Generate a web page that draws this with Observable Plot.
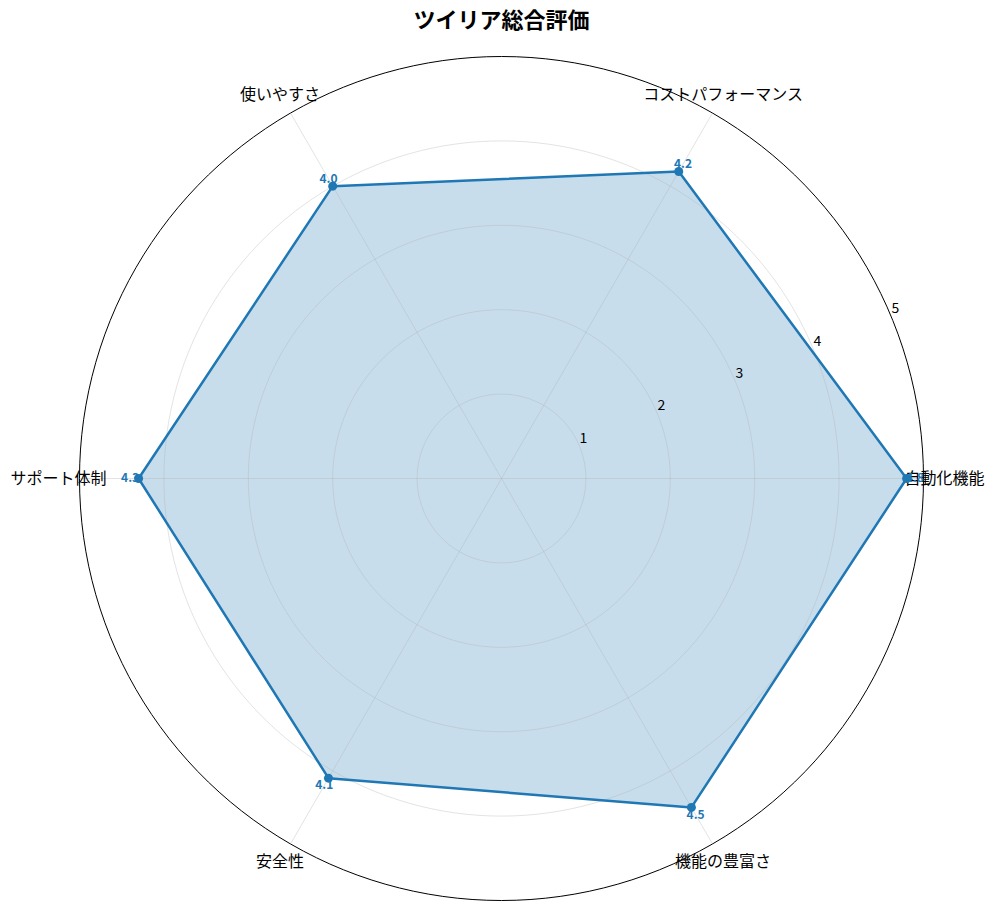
<!DOCTYPE html>
<html><head><meta charset="utf-8">
<script src="https://cdn.jsdelivr.net/npm/d3@7"></script>
<script src="https://cdn.jsdelivr.net/npm/@observablehq/plot@0.6"></script>
<style>body{margin:0;background:#fff}svg{display:block}</style>
</head><body><div id="chart"></div>
<script>
const title = "ツイリア総合評価";
const categories = ["自動化機能","コストパフォーマンス","使いやすさ","サポート体制","安全性","機能の豊富さ"];
const values = [4.8, 4.2, 4.0, 4.3, 4.1, 4.5];
const rTicks = [1, 2, 3, 4, 5];
const rMax = 5;

const W = 995, H = 910, cx = 501, cy = 478, R = 422;
const unit = R / rMax;
const n = categories.length;
const ang = i => i * 2 * Math.PI / n;
const pts = categories.map((c, i) => ({c, v: values[i], a: ang(i),
  x: values[i] * Math.cos(ang(i)), y: values[i] * Math.sin(ang(i)),
  lx: (values[i] + 0.1) * Math.cos(ang(i)), ly: (values[i] + 0.1) * Math.sin(ang(i)),
  cxl: 5.25 * Math.cos(ang(i)), cyl: 5.25 * Math.sin(ang(i)),
  sx: rMax * Math.cos(ang(i)), sy: rMax * Math.sin(ang(i))}));
const closed = [...pts, pts[0]];
const circ = rTicks.flatMap(t => d3.range(0, 361, 2).map(d => ({t, x: t * Math.cos(d * Math.PI / 180), y: t * Math.sin(d * Math.PI / 180)})));
const rl = 22.5 * Math.PI / 180;
const tickPts = rTicks.map(t => ({t, x: t * Math.cos(rl), y: t * Math.sin(rl)}));
const font = "'Noto Sans CJK JP', 'Noto Sans', sans-serif";

const chart = Plot.plot({
  width: W, height: H, margin: 0,
  style: {fontFamily: font, background: "#fff"},
  x: {domain: [-cx / unit, (W - cx) / unit], range: [0, W], axis: null},
  y: {domain: [-(H - cy) / unit, cy / unit], range: [H, 0], axis: null},
  marks: [
    Plot.line(closed, {x: "x", y: "y", fill: "#1f77b4", fillOpacity: 0.25, stroke: "none"}),
    Plot.line(circ.filter(d => d.t < rMax), {x: "x", y: "y", z: "t", stroke: "#b0b0b0", strokeOpacity: 0.35, strokeWidth: 1, curve: "linear"}),
    Plot.link(pts, {x1: () => 0, y1: () => 0, x2: "sx", y2: "sy", stroke: "#b0b0b0", strokeOpacity: 0.35, strokeWidth: 1}),
    Plot.line(circ.filter(d => d.t === rMax), {x: "x", y: "y", stroke: "#000", strokeWidth: 1}),
    Plot.text(tickPts, {x: "x", y: "y", text: d => String(d.t), dx: 4, dy: -8, fontSize: 14, fill: "#000"}),
    Plot.text(pts, {x: "cxl", y: "cyl", text: "c", fontSize: 16, fill: "#000"}),
    Plot.line(closed, {x: "x", y: "y", stroke: "#1f77b4", strokeWidth: 2.5}),
    Plot.text(pts, {x: "lx", y: "ly", text: d => d.v.toFixed(1), fill: "#1f77b4", fontSize: 12, fontWeight: "bold"}),
    Plot.dot(pts, {x: "x", y: "y", r: 4.5, fill: "#1f77b4"}),
    Plot.text([{x: 0, y: cy / unit}], {x: "x", y: "y", text: () => title, dy: 20, fontSize: 22, fontWeight: "bold", fill: "#000"})
  ]
});
document.getElementById("chart").appendChild(chart);
</script>
</body></html>
